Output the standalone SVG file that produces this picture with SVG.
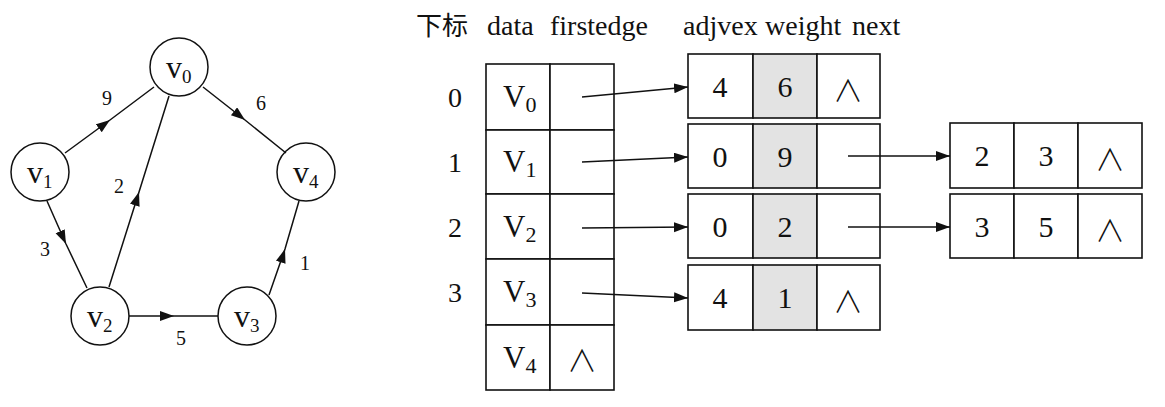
<svg xmlns="http://www.w3.org/2000/svg" width="1165" height="407" viewBox="0 0 1165 407">
<style>
text{font-family:"Liberation Serif","Noto Sans CJK SC",serif;fill:#111}
.c{fill:#fff;stroke:#111;stroke-width:1.5}
.b{fill:#fff;stroke:#111;stroke-width:1.6}
.g{fill:#e3e3e3;stroke:#111;stroke-width:1.6}
.e{fill:none;stroke:#111;stroke-width:1.5}
.gl{font-size:32px}
.gs{font-size:19px}
.wl{font-size:20px;text-anchor:middle}
.hd{font-size:28px}
.ix{font-size:28px;text-anchor:middle}
.vl{font-size:31px}
.vs{font-size:22px}
.n{font-size:30px;text-anchor:middle}
.nil{font-family:"Noto Sans CJK SC",sans-serif;font-weight:300;font-size:30px;text-anchor:middle}
</style>
<defs>
<marker id="ah" markerUnits="userSpaceOnUse" markerWidth="16" markerHeight="12" refX="14" refY="5" orient="auto">
<path d="M0,0 L14,5 L0,10 Z" fill="#111"/>
</marker>
</defs>
<rect width="1165" height="407" fill="#fff"/>

<g id="edge-labels">
<text class="wl" x="107" y="105">9</text>
<text class="wl" x="261" y="110">6</text>
<text class="wl" x="119" y="193">2</text>
<text class="wl" x="45" y="256">3</text>
<text class="wl" x="305" y="270">1</text>
<text class="wl" x="181" y="345">5</text>
</g>

<g id="node-v0"><circle class="c" cx="179" cy="67" r="29"/><text class="gl" x="166" y="78">v<tspan class="gs" dy="5">0</tspan></text></g>
<g id="node-v1"><circle class="c" cx="40" cy="172" r="29"/><text class="gl" x="27" y="183">v<tspan class="gs" dy="5">1</tspan></text></g>
<g id="node-v4"><circle class="c" cx="306" cy="172" r="29"/><text class="gl" x="293" y="183">v<tspan class="gs" dy="5">4</tspan></text></g>
<g id="node-v2"><circle class="c" cx="100" cy="316" r="29"/><text class="gl" x="87" y="327">v<tspan class="gs" dy="5">2</tspan></text></g>
<g id="node-v3"><circle class="c" cx="247" cy="316" r="29"/><text class="gl" x="234" y="327">v<tspan class="gs" dy="5">3</tspan></text></g>

<g id="headers">
<text class="hd" x="416" y="35" style="font-size:26px">下标</text>
<text class="hd" x="487" y="35">data</text>
<text class="hd" x="550" y="35">firstedge</text>
<text class="hd" x="683" y="35">adjvex</text>
<text class="hd" x="765" y="35">weight</text>
<text class="hd" x="852" y="35">next</text>
</g>

<g id="indices">
<text class="ix" x="455" y="107">0</text>
<text class="ix" x="455" y="172">1</text>
<text class="ix" x="455" y="237">2</text>
<text class="ix" x="455" y="302">3</text>
</g>

<g id="vertex-0"><rect class="b" x="486" y="64" width="64" height="66"/><rect class="b" x="550" y="64" width="64" height="66"/><text class="vl" x="503" y="107">V<tspan class="vs" dy="5">0</tspan></text></g>
<g id="vertex-1"><rect class="b" x="486" y="130" width="64" height="64"/><rect class="b" x="550" y="130" width="64" height="64"/><text class="vl" x="503" y="172">V<tspan class="vs" dy="5">1</tspan></text></g>
<g id="vertex-2"><rect class="b" x="486" y="194" width="64" height="65"/><rect class="b" x="550" y="194" width="64" height="65"/><text class="vl" x="503" y="237">V<tspan class="vs" dy="5">2</tspan></text></g>
<g id="vertex-3"><rect class="b" x="486" y="259" width="64" height="66"/><rect class="b" x="550" y="259" width="64" height="66"/><text class="vl" x="503" y="302">V<tspan class="vs" dy="5">3</tspan></text></g>
<g id="vertex-4"><rect class="b" x="486" y="325" width="64" height="65"/><rect class="b" x="550" y="325" width="64" height="65"/><text class="vl" x="503" y="368">V<tspan class="vs" dy="5">4</tspan></text><text class="nil" x="582" y="371">∧</text></g>

<g id="edge-0-4"><rect class="b" x="688" y="54" width="65" height="64"/><rect class="g" x="753" y="54" width="64" height="64"/><rect class="b" x="817" y="54" width="63" height="64"/><text class="n" x="720" y="97">4</text><text class="n" x="785" y="97">6</text><text class="nil" x="848" y="101">∧</text></g>
<g id="edge-1-0"><rect class="b" x="688" y="124" width="65" height="64"/><rect class="g" x="753" y="124" width="64" height="64"/><rect class="b" x="817" y="124" width="63" height="64"/><text class="n" x="720" y="167">0</text><text class="n" x="785" y="167">9</text></g>
<g id="edge-1-2"><rect class="b" x="950" y="123" width="64" height="65"/><rect class="b" x="1014" y="123" width="64" height="65"/><rect class="b" x="1078" y="123" width="64" height="65"/><text class="n" x="982" y="166">2</text><text class="n" x="1046" y="166">3</text><text class="nil" x="1110" y="170">∧</text></g>
<g id="edge-2-0"><rect class="b" x="688" y="194" width="65" height="64"/><rect class="g" x="753" y="194" width="64" height="64"/><rect class="b" x="817" y="194" width="63" height="64"/><text class="n" x="720" y="237">0</text><text class="n" x="785" y="237">2</text></g>
<g id="edge-2-3"><rect class="b" x="950" y="194" width="64" height="64"/><rect class="b" x="1014" y="194" width="64" height="64"/><rect class="b" x="1078" y="194" width="64" height="64"/><text class="n" x="982" y="237">3</text><text class="n" x="1046" y="237">5</text><text class="nil" x="1110" y="241">∧</text></g>
<g id="edge-3-4"><rect class="b" x="688" y="265" width="65" height="65"/><rect class="g" x="753" y="265" width="64" height="65"/><rect class="b" x="817" y="265" width="63" height="65"/><text class="n" x="720" y="308">4</text><text class="n" x="785" y="308">1</text><text class="nil" x="848" y="312">∧</text></g>

<g id="connectors">
<polyline class="e" points="65,153 110,120 154,87" marker-mid="url(#ah)"/>
<polyline class="e" points="203,87 245,120 286,153" marker-mid="url(#ah)"/>
<polyline class="e" points="109,287 139,192 169,96" marker-mid="url(#ah)"/>
<polyline class="e" points="47,201 66,244 87,288" marker-mid="url(#ah)"/>
<polyline class="e" points="129,316 174,316 218,316" marker-mid="url(#ah)"/>
<polyline class="e" points="269,295 285,249 299,201" marker-mid="url(#ah)"/>
<line class="e" x1="582" y1="97" x2="688" y2="87" marker-end="url(#ah)"/>
<line class="e" x1="582" y1="162" x2="688" y2="157" marker-end="url(#ah)"/>
<line class="e" x1="582" y1="228" x2="688" y2="227" marker-end="url(#ah)"/>
<line class="e" x1="582" y1="293" x2="688" y2="298" marker-end="url(#ah)"/>
<line class="e" x1="848" y1="156" x2="950" y2="156" marker-end="url(#ah)"/>
<line class="e" x1="848" y1="227" x2="950" y2="227" marker-end="url(#ah)"/>
</g>
</svg>
